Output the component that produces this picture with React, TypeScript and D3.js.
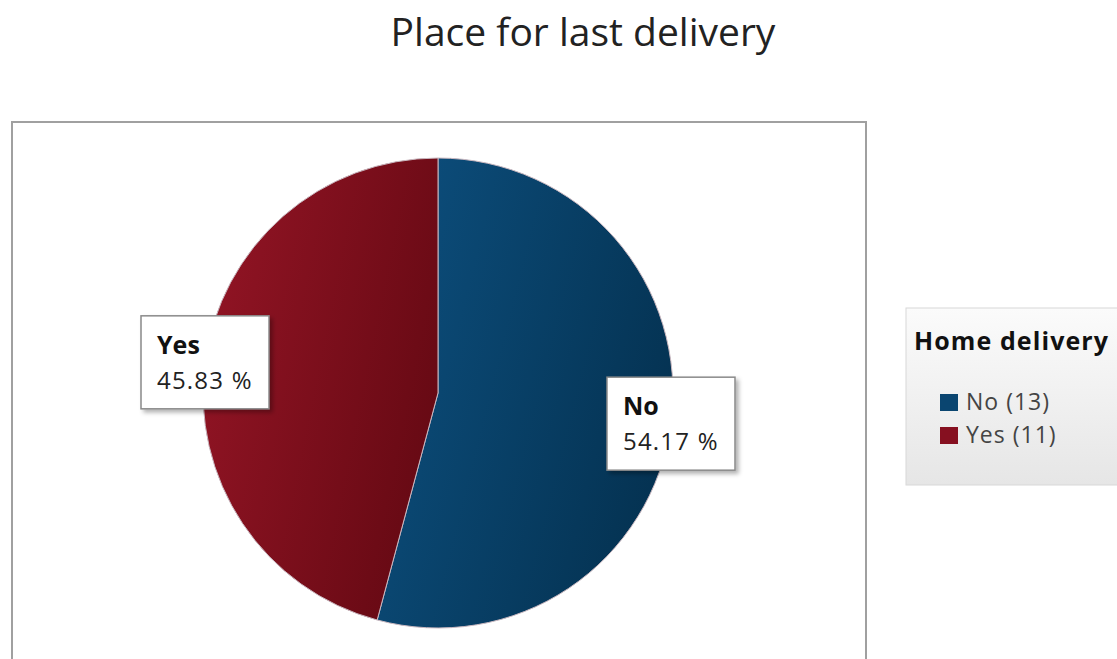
import React from 'react';
import * as d3 from 'd3';

const title = 'Place for last delivery';
const legendTitle = 'Home delivery';
const categories = ['No', 'Yes'];
const counts = [13, 11];
const lightColors = ['#0c4d7b', '#911424'];
const darkColors = ['#043150', '#650913'];
const swatchColors = ['#0a4570', '#861020'];

const W = 1117;
const H = 659;
const cx = 438;
const cy = 393;
const radius = 235;

const App = () => {
    const total = d3.sum(counts);
    const data = categories.map((c, i) => ({ name: c, value: counts[i], idx: i }));

    const pie = d3.pie<any>()
        .value(d => d.value)
        .sort(null);
    const arcs = pie(data);

    const arc = d3.arc<any>()
        .innerRadius(0)
        .outerRadius(radius);
    // point on the rim at each slice's middle angle, for the label boxes
    const rimArc = d3.arc<any>()
        .innerRadius(radius)
        .outerRadius(radius);

    const font = "'Open Sans', 'Noto Sans', sans-serif";
    const boxW = 128;
    const boxH = 93;

    return (
        <svg width={W} height={H} style={{ position: 'absolute', left: 0, top: 0, background: '#fff' }}>
            <defs>
                {categories.map((c, i) => (
                    <linearGradient key={c} id={`grad${i}`} x1="0" y1="0.3" x2="1" y2="0.7">
                        <stop offset="0%" stopColor={lightColors[i]} />
                        <stop offset="100%" stopColor={darkColors[i]} />
                    </linearGradient>
                ))}
                <linearGradient id="legendGrad" x1="0" y1="0" x2="0" y2="1">
                    <stop offset="0%" stopColor="#fbfbfb" />
                    <stop offset="100%" stopColor="#e6e6e6" />
                </linearGradient>
                <filter id="shadow" x="-20%" y="-20%" width="150%" height="150%">
                    <feDropShadow dx="3" dy="3" stdDeviation="2" floodColor="#000" floodOpacity="0.3" />
                </filter>
            </defs>

            <text x={583} y={46} textAnchor="middle" fontFamily={font} fontSize={39} fill="#222">
                {title}
            </text>

            {/* plot area frame */}
            <rect x={12} y={122} width={854} height={560} fill="#fff" stroke="#a0a0a0" strokeWidth={2} />

            <g transform={`translate(${cx},${cy})`}>
                {arcs.map(a => (
                    <path key={a.data.name} d={arc(a) as string} fill={`url(#grad${a.data.idx})`}
                        stroke="#c9b8c0" strokeWidth={1} />
                ))}
                {arcs.map(a => {
                    const [lx, ly] = rimArc.centroid(a);
                    const pct = (a.data.value / total * 100).toFixed(2);
                    return (
                        <g key={'lab' + a.data.name} transform={`translate(${lx - boxW / 2},${ly - boxH / 2})`}>
                            <rect width={boxW} height={boxH} fill="#fff" stroke="#8a8a8a" strokeWidth={1.5}
                                filter="url(#shadow)" />
                            <text x={16} y={38} fontFamily={font} fontSize={25} fontWeight="bold" fill="#111">
                                {a.data.name}
                            </text>
                            <text x={16} y={73} fontFamily={font} fontSize={24} fill="#222" letterSpacing={1.2}>
                                {pct} %
                            </text>
                        </g>
                    );
                })}
            </g>

            {/* legend */}
            <g transform="translate(906,308)">
                <rect width={220} height={177} fill="url(#legendGrad)" stroke="#d8d8d8" strokeWidth={1} />
                <text x={8} y={42} fontFamily={font} fontSize={25} fontWeight="bold" fill="#111"
                    letterSpacing={1.1}>
                    {legendTitle}
                </text>
                {categories.map((c, i) => (
                    <g key={c} transform={`translate(34,${86 + i * 33})`}>
                        <rect x={0} y={0} width={18} height={17} fill={swatchColors[i]} />
                        <text x={26} y={16} fontFamily={font} fontSize={23} fill="#444" letterSpacing={1}>
                            {`${c} (${counts[i]})`}
                        </text>
                    </g>
                ))}
            </g>
        </svg>
    );
};

export default App;
